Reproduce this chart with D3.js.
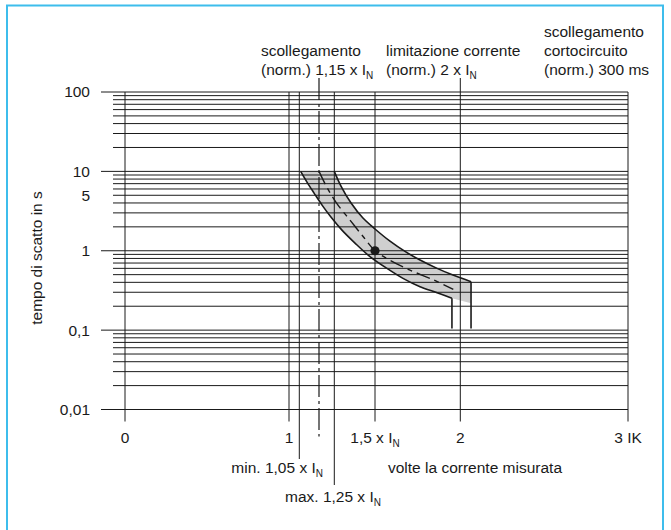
<!DOCTYPE html>
<html>
<head>
<meta charset="utf-8">
<script src="https://cdn.jsdelivr.net/npm/d3@7/dist/d3.min.js"></script>
<style>
  html, body { margin: 0; padding: 0; background: #fff; }
  svg { display: block; }
  text { font-family: "Liberation Sans", Arial, Helvetica, sans-serif; fill: #1a1a1a; }
</style>
</head>
<body>
<svg id="chart" width="671" height="530"></svg>
<script>
// ---------------- data ----------------
const yTickValues = [0.01, 0.1, 1, 5, 10, 100];
const yTickLabels = ["0,01", "0,1", "1", "5", "10", "100"];
const yMajor = [0.01, 0.1, 1, 10, 100];
const decades = [0.01, 0.1, 1, 10];
const minorMultipliers = [1, 2, 3, 4, 5, 6, 7, 8, 9];

const xTickValues = [0, 1, 1.5, 2, 3];
const xTickLabels = ["0", "1", "1,5 x I|N", "2", "3 IK"];

// vertical reference lines (multiples of I_N)
const refLines = [0, 1, 1.05, 1.25, 1.5, 2, 3];
const dashDotLine = 1.15;

// upper limit (max tripping time) curve: [x (I/IN), t (s)]
const upperCurve = [[1.25,10],[1.291,6.53],[1.353,3.99],[1.426,2.58],[1.5,1.88],[1.588,1.32],
  [1.676,0.98],[1.764,0.764],[1.864,0.60],[1.957,0.494],[2.064,0.407]];
// lower limit (min tripping time) curve
const lowerCurve = [[1.057,10],[1.089,7.33],[1.125,5.33],[1.170,3.76],[1.228,2.66],[1.297,1.82],
  [1.377,1.25],[1.469,0.845],[1.570,0.60],[1.664,0.449],[1.764,0.352],[1.864,0.296],[1.951,0.252]];
// nominal curve (dashed)
const nominalCurve = [[1.15,10],[1.2,6.4],[1.265,3.95],[1.346,2.44],[1.428,1.5],[1.5,1.0],
  [1.588,0.76],[1.705,0.57],[1.842,0.43],[1.959,0.327]];
// end of band (short-circuit release) and tail of grey band
const bandTail = [2.064, 0.218];
const cutoffTime = 0.105;
const markPoint = [1.5, 1];

// ---------------- scales ----------------
const svg = d3.select("#chart");
const x = d3.scaleLinear()
  .domain([0, 1, 1.05, 1.15, 1.25, 1.5, 2, 3])
  .range([125, 289, 299.3, 319, 334.3, 375, 460.3, 628]);
const y = d3.scaleLog().domain([0.01, 100]).range([409.5, 92]);

const FS = 15.5;
const ink = "#1a1a1a";

// border
svg.append("rect").attr("x", 7).attr("y", 5.5).attr("width", 656).attr("height", 600)
  .attr("fill", "none").attr("stroke", "#3dbdec").attr("stroke-width", 2);

// ---------------- grey band ----------------
const line = d3.line().x(d => x(d[0])).y(d => y(d[1])).curve(d3.curveCatmullRom);
const bandPath = line(upperCurve)
  + "L" + x(bandTail[0]) + "," + y(bandTail[1])
  + line(lowerCurve.slice().reverse()).replace(/^M/, "L") + "Z";
svg.append("path").attr("d", bandPath).attr("fill", "#cfcfcf").attr("stroke", "none");

// ---------------- grid ----------------
const hLines = [];
decades.forEach(d => minorMultipliers.forEach(m => hLines.push(+(d * m).toPrecision(3))));
hLines.push(100);
const gGrid = svg.append("g");
gGrid.selectAll("line.h").data(hLines).join("line")
  .attr("x1", d => yMajor.includes(d) ? x(0) - 24 : x(0) - 12)
  .attr("x2", x(3))
  .attr("y1", d => y(d)).attr("y2", d => y(d))
  .attr("stroke", ink).attr("stroke-width", 1);

const below = {0: 12, 1: 12, 1.05: 49.5, 1.25: 75.5, 1.5: 12, 2: 12, 3: 12};
const above = {2: 14};
gGrid.selectAll("line.v").data(refLines).join("line")
  .attr("x1", d => x(d)).attr("x2", d => x(d))
  .attr("y1", d => y(100) - (above[d] || 0))
  .attr("y2", d => y(0.01) + below[d])
  .attr("stroke", ink).attr("stroke-width", 1);

svg.append("line")
  .attr("x1", x(dashDotLine)).attr("x2", x(dashDotLine))
  .attr("y1", y(100) - 14).attr("y2", y(0.01) + 27)
  .attr("stroke", ink).attr("stroke-width", 1.2)
  .attr("stroke-dasharray", "22,4,3,4");

// ---------------- curves ----------------
svg.append("path").attr("d", line(upperCurve)).attr("fill", "none")
  .attr("stroke", ink).attr("stroke-width", 1.6);
svg.append("line")
  .attr("x1", x(upperCurve[upperCurve.length-1][0])).attr("x2", x(upperCurve[upperCurve.length-1][0]))
  .attr("y1", y(upperCurve[upperCurve.length-1][1])).attr("y2", y(cutoffTime))
  .attr("stroke", ink).attr("stroke-width", 1.6);
svg.append("path").attr("d", line(lowerCurve)).attr("fill", "none")
  .attr("stroke", ink).attr("stroke-width", 1.6);
svg.append("line")
  .attr("x1", x(lowerCurve[lowerCurve.length-1][0])).attr("x2", x(lowerCurve[lowerCurve.length-1][0]))
  .attr("y1", y(lowerCurve[lowerCurve.length-1][1])).attr("y2", y(cutoffTime))
  .attr("stroke", ink).attr("stroke-width", 1.6);
svg.append("path").attr("d", line(nominalCurve)).attr("fill", "none")
  .attr("stroke", ink).attr("stroke-width", 1.4)
  .attr("stroke-dasharray", "14,5,5,5");
svg.append("circle").attr("cx", x(markPoint[0])).attr("cy", y(markPoint[1])).attr("r", 4.6)
  .attr("fill", ink);

// ---------------- text helpers ----------------
function label(xp, yp, str, anchor) {
  const t = svg.append("text").attr("x", xp).attr("y", yp)
    .attr("font-size", FS).attr("text-anchor", anchor || "start");
  const parts = str.split("|");
  t.append("tspan").text(parts[0]);
  if (parts.length > 1) {
    t.append("tspan").attr("font-size", 10).attr("dy", 4).text(parts[1]);
  }
  return t;
}

// y axis labels
const yAxis = d3.axisLeft(y).tickValues(yTickValues)
  .tickFormat((d, i) => yTickLabels[i]).tickSize(0).tickPadding(11);
const gy = svg.append("g").attr("transform", `translate(${x(0) - 24},0)`).call(yAxis);
gy.select(".domain").remove();
gy.selectAll("text").attr("font-size", FS).attr("font-family", "Liberation Sans, Arial, sans-serif")
  .attr("fill", ink);

// x tick labels
xTickValues.forEach((v, i) => {
  label(x(v), 443, xTickLabels[i], "middle");
});

// y title
svg.append("text").attr("transform", `translate(42,258) rotate(-90)`)
  .attr("text-anchor", "middle").attr("font-size", FS).text("tempo di scatto in s");

// top annotations
label(261, 56, "scollegamento");
label(261, 75, "(norm.) 1,15 x I|N");
label(386, 56, "limitazione corrente");
label(386, 75, "(norm.) 2 x I|N");
label(544, 37, "scollegamento");
label(544, 56, "cortocircuito");
label(544, 75, "(norm.) 300 ms");

// bottom annotations
label(323, 473, "min. 1,05 x I|N", "end");
label(388, 473, "volte la corrente misurata");
label(285, 502, "max. 1,25 x I|N");
</script>
</body>
</html>
